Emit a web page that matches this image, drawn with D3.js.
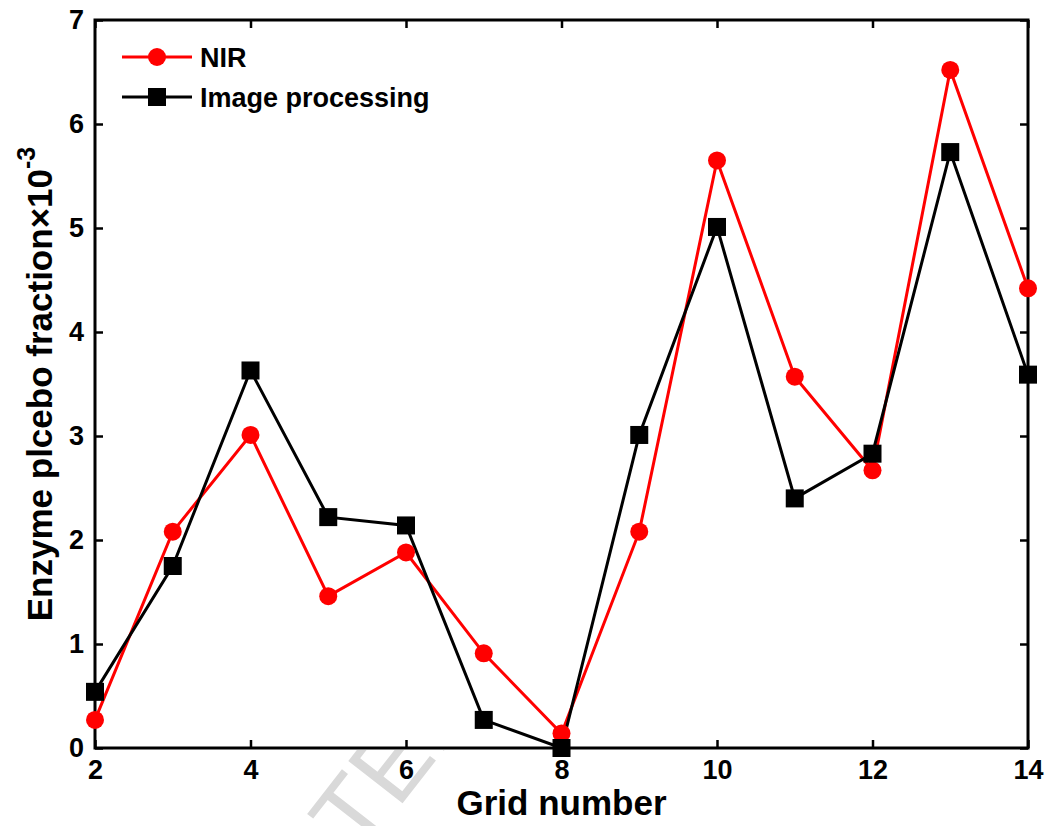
<!DOCTYPE html>
<meta charset='utf-8'>
<style>
body { margin: 0; background: #fff; }
text { font-family: 'Liberation Sans', Arial, sans-serif; }
.axis text { font-size: 27px; font-weight: bold; fill: #000; }
.axis line { stroke: #000; stroke-width: 2.5; }
.axis path { display: none; }
</style>
<svg width='1047' height='826'></svg>
<script src='https://cdnjs.cloudflare.com/ajax/libs/d3/7.8.5/d3.min.js'></script>
<script>
// grid numbers and the two series (enzyme placebo fraction x 1e-3)
var grids = [2, 3, 4, 5, 6, 7, 8, 9, 10, 11, 12, 13, 14];
var nir = [0.27, 2.08, 3.01, 1.46, 1.88, 0.91, 0.14, 2.08, 5.65, 3.57, 2.67, 6.52, 4.42];
var imageProc = [0.54, 1.75, 3.63, 2.22, 2.14, 0.27, 0.0, 3.01, 5.01, 2.40, 2.83, 5.73, 3.59];
var xTicks = [2, 4, 6, 8, 10, 12, 14];
var yTicks = [0, 1, 2, 3, 4, 5, 6, 7];

var svg = d3.select('svg'),
    pLeft = 95, pTop = 20, pRight = 1028, pBottom = 748;

var x = d3.scaleLinear().domain([2, 14]).range([pLeft, pRight]),
    y = d3.scaleLinear().domain([0, 7]).range([pBottom, pTop]);

// faint watermark behind the figure, only visible below the plot
svg.append('clipPath').attr('id', 'wm')
  .append('rect').attr('x', 0).attr('y', pBottom + 2).attr('width', 1047).attr('height', 80);
var wm = svg.append('g').attr('clip-path', 'url(#wm)')
  .append('text')
    .style('font-size', '100px')
    .style('fill', '#d9d9d9')
    .text('ACCEPTED MANUSCRIPT');
var pre = wm.node().getSubStringLength(0, 5);
var ang = -52, a = ang * Math.PI / 180;
wm.attr('transform', 'translate(' + (360 - pre * Math.cos(a)) + ',' + (858 - pre * Math.sin(a)) + ') rotate(' + ang + ')');

// axes, ticks pointing inward
svg.append('g').attr('class', 'axis')
    .attr('transform', 'translate(0,' + pBottom + ')')
    .call(d3.axisBottom(x).tickValues(xTicks).tickSizeInner(-8).tickSizeOuter(0).tickPadding(12));
svg.append('g').attr('class', 'axis')
    .attr('transform', 'translate(0,' + pTop + ')')
    .call(d3.axisTop(x).tickValues(xTicks).tickSizeInner(-8).tickSizeOuter(0).tickFormat(''));
svg.append('g').attr('class', 'axis')
    .attr('transform', 'translate(' + pLeft + ',0)')
    .call(d3.axisLeft(y).tickValues(yTicks).tickFormat(d3.format('d')).tickSizeInner(-8).tickSizeOuter(0).tickPadding(11));
svg.append('g').attr('class', 'axis')
    .attr('transform', 'translate(' + pRight + ',0)')
    .call(d3.axisRight(y).tickValues(yTicks).tickSizeInner(-8).tickSizeOuter(0).tickFormat(''));

svg.append('rect')
    .attr('x', pLeft).attr('y', pTop)
    .attr('width', pRight - pLeft).attr('height', pBottom - pTop)
    .attr('fill', 'none').attr('stroke', '#000').attr('stroke-width', 3);

// series
var line = d3.line()
    .x(function(d, i) { return x(grids[i]); })
    .y(function(d) { return y(d); });

svg.append('path').datum(nir)
    .attr('d', line).attr('fill', 'none').attr('stroke', '#ff0000').attr('stroke-width', 3);
svg.append('path').datum(imageProc)
    .attr('d', line).attr('fill', 'none').attr('stroke', '#000').attr('stroke-width', 3);

svg.selectAll('.nir').data(nir).enter().append('circle')
    .attr('cx', function(d, i) { return x(grids[i]); })
    .attr('cy', function(d) { return y(d); })
    .attr('r', 9).attr('fill', '#ff0000');
svg.selectAll('.img').data(imageProc).enter().append('rect')
    .attr('x', function(d, i) { return x(grids[i]) - 9; })
    .attr('y', function(d) { return y(d) - 9; })
    .attr('width', 18).attr('height', 18).attr('fill', '#000');

// legend
var legend = svg.append('g');
legend.append('line').attr('x1', 122).attr('x2', 192).attr('y1', 57).attr('y2', 57)
    .attr('stroke', '#ff0000').attr('stroke-width', 3);
legend.append('circle').attr('cx', 157).attr('cy', 57).attr('r', 9).attr('fill', '#ff0000');
legend.append('text').attr('x', 200).attr('y', 67).text('NIR')
    .style('font-size', '27px').style('font-weight', 'bold');
legend.append('line').attr('x1', 122).attr('x2', 192).attr('y1', 97).attr('y2', 97)
    .attr('stroke', '#000').attr('stroke-width', 3);
legend.append('rect').attr('x', 148).attr('y', 88).attr('width', 18).attr('height', 18).attr('fill', '#000');
legend.append('text').attr('x', 200).attr('y', 107).text('Image processing')
    .style('font-size', '27px').style('font-weight', 'bold');

// axis titles
svg.append('text')
    .attr('x', (pLeft + pRight) / 2).attr('y', 815)
    .attr('text-anchor', 'middle')
    .style('font-size', '35px').style('font-weight', 'bold')
    .text('Grid number');

var yt = svg.append('text')
    .attr('transform', 'translate(52,' + (pTop + pBottom) / 2 + ') rotate(-90)')
    .attr('text-anchor', 'middle')
    .style('font-size', '35px').style('font-weight', 'bold');
yt.append('tspan').text('Enzyme plcebo fraction\u00d710');
yt.append('tspan').attr('dy', -17).style('font-size', '25px').text('-3');
</script>
